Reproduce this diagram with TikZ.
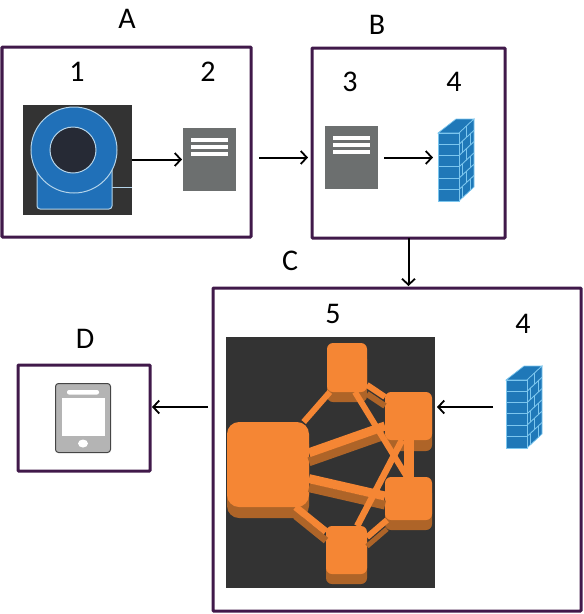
\documentclass[tikz,border=0pt]{standalone}
\usepackage{fontspec}
\setmainfont{Carlito}
\usepackage{xcolor}
\usetikzlibrary{arrows.meta,calc}
\definecolor{boxpurple}{HTML}{40194A}
\definecolor{darkbg}{HTML}{333333}
\definecolor{srvgray}{HTML}{6C6F6F}
\definecolor{ringblue}{HTML}{2070B8}
\definecolor{ringline}{HTML}{B4D4EA}
\definecolor{holedark}{HTML}{262A35}
\definecolor{wallblue}{HTML}{1F78B8}
\definecolor{wallline}{HTML}{7CC6EE}
\definecolor{meshorange}{HTML}{F58634}
\definecolor{meshshade}{HTML}{AE6428}
\definecolor{tabgray}{HTML}{B4B4B4}
\definecolor{tabedge}{HTML}{454545}
\tikzset{
  groupbox/.style={draw=boxpurple,line width=3pt,rounded corners=0.8pt,
                   outer sep=0pt,inner sep=0pt},
  biglabel/.style={font=\fontsize{30}{30}\selectfont,inner sep=0pt,text=black},
  flowarr/.style={-{Straight Barb[length=6pt,width=13pt,line width=1.8pt]},
                  line width=2pt,draw=black},
  darkpanel/.style={fill=darkbg,outer sep=0pt,inner sep=0pt},
  srvbox/.style={fill=srvgray,outer sep=0pt,inner sep=0pt,
                 minimum width=53pt,minimum height=63pt},
  iconspace/.style={outer sep=0pt,inner sep=0pt},
  meshblock/.style={fill=meshorange,rounded corners=6pt,outer sep=0pt,inner sep=0pt},
  meshdrop/.style={fill=meshshade,rounded corners=6pt},
  srvbars/.pic={
    \foreach \yy in {10,17,24}
      \fill[white] (8,\yy) rectangle (45,\yy+4);
  },
  brickwall/.pic={
    \filldraw[fill=wallblue,draw=wallline,line width=0.7pt]
      (0,14) -- (18,0) -- (36,0) -- (21,14) -- cycle;
    \filldraw[fill=wallblue,draw=wallline,line width=0.7pt]
      (21,14) -- (36,0) -- (36,68) -- (21,82) -- cycle;
    \filldraw[fill=wallblue,draw=wallline,line width=0.9pt]
      (0,14) rectangle (21,82);
    \foreach \yy in {1,...,5} {
      \draw[wallline,line width=0.9pt] (0,14+11.3*\yy) -- (21,14+11.3*\yy);
      \draw[wallline,line width=0.9pt] (21,14+11.3*\yy) -- (36,11.3*\yy);
    }
    \foreach \yy in {0,2,4}
      \draw[wallline,line width=0.9pt] (28.5,7+11.3*\yy) -- (28.5,18.3+11.3*\yy);
    \foreach \yy in {1,3,5}
      \draw[wallline,line width=0.9pt] (24,11+11.3*\yy) -- (24,22.3+11.3*\yy)
        (32,3.5+11.3*\yy) -- (32,14.8+11.3*\yy);
  }
}
\begin{document}
\begin{tikzpicture}[x=1pt,y=-1pt]
  \useasboundingbox (0,0) rectangle (584,614);

  % group frames
  \node[groupbox,minimum width=249pt,minimum height=190pt] (boxa) at (126.5,142) {};
  \node[groupbox,minimum width=193pt,minimum height=190pt] (boxb) at (408.5,143) {};
  \node[groupbox,minimum width=368pt,minimum height=323pt] (boxc) at (397,449.5) {};
  \node[groupbox,minimum width=132pt,minimum height=106pt] (boxd) at (84,418) {};

  \node[biglabel] (laba) at (127,19) {A};
  \node[biglabel] (labb) at (377,25) {B};
  \node[biglabel] (labc) at (290,261) {C};
  \node[biglabel] (labd) at (85,339) {D};
  \node[biglabel] (num1) at (77,72) {1};
  \node[biglabel] (num2) at (208,72) {2};
  \node[biglabel] (num3) at (350,82) {3};
  \node[biglabel] (num4) at (454,82) {4};
  \node[biglabel] (num5) at (333,314) {5};
  \node[biglabel] (num4b) at (523,324) {4};

  % camera icon
  \node[darkpanel,minimum width=109pt,minimum height=110pt] (camera) at (77.5,159.5) {};
  \draw[ringline,line width=0.9pt] (112,187) -- (camera.east |- 112,187);
  \filldraw[fill=ringblue,draw=ringline,line width=1pt,rounded corners=3pt]
    (37,165) rectangle (112,209);
  \filldraw[fill=ringblue,draw=ringline,line width=1pt] (74,150) circle (43);
  \filldraw[fill=holedark,draw=ringline,line width=1pt] (73,150) circle (23);

  % servers
  \node[srvbox] (server2) at (209.5,159.5) {};
  \node[srvbox] (server3) at (351.5,157.5) {};
  \pic at (183,128) {srvbars};
  \pic at (325,126) {srvbars};

  % firewalls
  \node[iconspace,minimum width=36pt,minimum height=82pt] (wallb) at (456,160) {};
  \node[iconspace,minimum width=36pt,minimum height=82pt] (wallc) at (524,407) {};
  \pic at (438,119) {brickwall};
  \pic at (506,366) {brickwall};

  % mesh icon
  \node[darkpanel,minimum width=209pt,minimum height=251pt] (mesh) at (330.5,462.5) {};
  \fill[meshdrop,rounded corners=12pt] (227,432) rectangle (309,518);
  \fill[meshdrop] (327,353) rectangle (367,402);
  \fill[meshdrop] (385,402) rectangle (432,451);
  \fill[meshdrop] (385,487) rectangle (432,530);
  \fill[meshdrop] (326,536) rectangle (367,584);
  \node[meshblock,rounded corners=12pt,minimum width=82pt,minimum height=85pt] (hub) at (268,464.5) {};
  \node[meshblock,minimum width=40pt,minimum height=49pt] (top) at (347,367.5) {};
  \node[meshblock,minimum width=47pt,minimum height=48pt] (rup) at (408.5,416) {};
  \node[meshblock,minimum width=47pt,minimum height=43pt] (rlow) at (408.5,498.5) {};
  \node[meshblock,minimum width=41pt,minimum height=48pt] (bot) at (346.5,550) {};
  \foreach \a/\b/\w in {top.-41/rup.141/6,
                        hub.16/rup.-157/9,
                        hub.-19.5/rlow.174/9,
                        hub.-57.6/bot.138/7,
                        bot.32/rlow.-135/5} {
    \draw[meshshade,line width=\w pt] ([yshift=-9pt]\a) -- ([yshift=-9pt]\b);
  }
  \foreach \a/\b/\w in {hub.50.5/top.-125/6,
                        top.-41/rup.141/6,
                        top.-72/rlow.94/6,
                        hub.16/rup.-157/9,
                        hub.-19.5/rlow.174/9,
                        hub.-57.6/bot.138/7,
                        bot.66/rup.-105/6.5,
                        bot.32/rlow.-135/6,
                        rup.-90/rlow.90/10} {
    \draw[meshorange,line width=\w pt] (\a) -- (\b);
  }

  % tablet
  \node[fill=tabgray,draw=tabedge,line width=1pt,rounded corners=3pt,outer sep=0pt,
        inner sep=0pt,minimum width=55pt,minimum height=69pt] (tablet) at (83,418) {};
  \fill[white] (62,398) rectangle (105,436);
  \fill[white,rounded corners=2pt] (67,390) rectangle (99,394.5);
  \fill[white] (83,443.5) ellipse (5 and 4);

  \draw[flowarr,shorten >=1pt] (camera.east) -- (server2.west);
  \draw[flowarr,shorten <=6pt,shorten >=5pt] (server3.east) -- (server3.east -| wallb.west);
  \draw[flowarr,shorten <=8pt,shorten >=4pt] (boxa.east |- server3.east) -- (server3.east -| boxb.west);
  \draw[flowarr,shorten >=2pt] (boxb.south) -- (boxb.south |- boxc.north);
  \draw[flowarr,shorten <=13pt,shorten >=2pt] (wallc.west) -- (wallc.west -| mesh.east);
  \draw[flowarr,shorten <=5pt,shorten >=2pt] (wallc.west -| boxc.west) -- (wallc.west -| boxd.east);
\end{tikzpicture}
\end{document}
